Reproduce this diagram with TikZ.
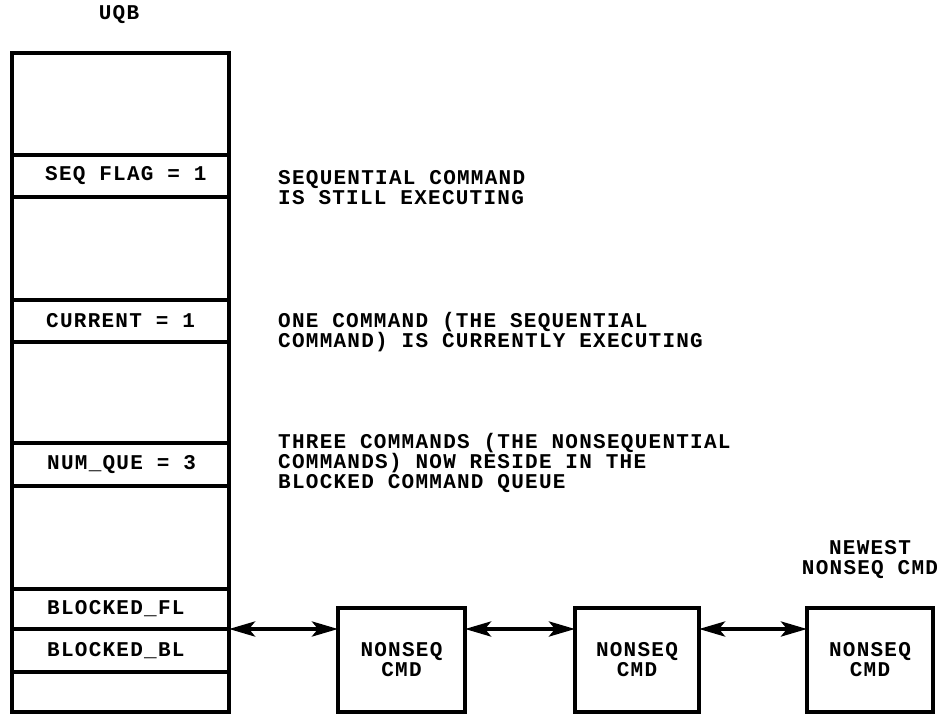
\documentclass[tikz,border=0pt]{standalone}
\usepackage{fontspec}
\newfontfamily\cour{Liberation Mono}[LetterSpace=6]
\usetikzlibrary{arrows.meta}
\tikzset{
  lbl/.style={inner sep=0pt, align=left, font=\cour\bfseries\fontsize{21}{20}\selectfont},
  clbl/.style={inner sep=0pt, align=center, font=\cour\bfseries\fontsize{21}{20}\selectfont},
  frame/.style={draw, line width=4.5pt, inner sep=0pt, outer sep=0pt},
  sep/.style={line width=3.5pt},
  cmdbox/.style={draw, line width=4.5pt, inner sep=0pt, outer sep=0pt, minimum width=127pt, minimum height=104pt},
  dblarrow/.style={line width=4pt, {Stealth[length=26pt,width=15pt,inset=6pt]}-{Stealth[length=26pt,width=15pt,inset=6pt]}}
}
\begin{document}
\begin{tikzpicture}[x=1pt,y=-1pt]
\useasboundingbox (0,0) rectangle (943,715);
% UQB column
\node[lbl] (title) at (119,15) {UQB};
\node[frame, minimum width=217pt, minimum height=659pt] (uqb) at (120.5,382.5) {};
\foreach \yy in {155,197,300,342,443,486,589,629,672}
  \draw[sep] (uqb.west |- 0,\yy) -- (uqb.east |- 0,\yy);
\node[lbl, anchor=west] (seq) at (45,176) {SEQ FLAG = 1};
\node[lbl, anchor=west] (cur) at (46,321) {CURRENT = 1};
\node[lbl, anchor=west] (num) at (47,465) {NUM\_QUE = 3};
\node[lbl, anchor=west] (bfl) at (47,609) {BLOCKED\_FL};
\node[lbl, anchor=west] (bbl) at (47,651) {BLOCKED\_BL};
% explanations
\node[lbl, anchor=west] (e1) at (278,188) {SEQUENTIAL COMMAND\\IS STILL EXECUTING};
\node[lbl, anchor=west] (e2) at (278,332) {ONE COMMAND (THE SEQUENTIAL\\COMMAND) IS CURRENTLY EXECUTING};
\node[lbl, anchor=west] (e3) at (278,463) {THREE COMMANDS (THE NONSEQUENTIAL\\COMMANDS) NOW RESIDE IN THE\\BLOCKED COMMAND QUEUE};
% command boxes
\node[cmdbox] (b1) at (401.5,660) {};
\node[cmdbox, minimum width=124pt] (b2) at (637,660) {};
\node[cmdbox, minimum width=126pt] (b3) at (870,660) {};
\node[clbl] (t1) at (b1) {NONSEQ\\CMD};
\node[clbl] (t2) at (b2) {NONSEQ\\CMD};
\node[clbl] (t3) at (b3) {NONSEQ\\CMD};
\node[clbl] (newest) at (870,560) {NEWEST\\NONSEQ CMD};
% links
\coordinate (link) at (uqb.east |- 0,629);
\draw[dblarrow] (link) -- (b1.west |- link);
\draw[dblarrow] (b1.east |- link) -- (b2.west |- link);
\draw[dblarrow] (b2.east |- link) -- (b3.west |- link);
\end{tikzpicture}
\end{document}
